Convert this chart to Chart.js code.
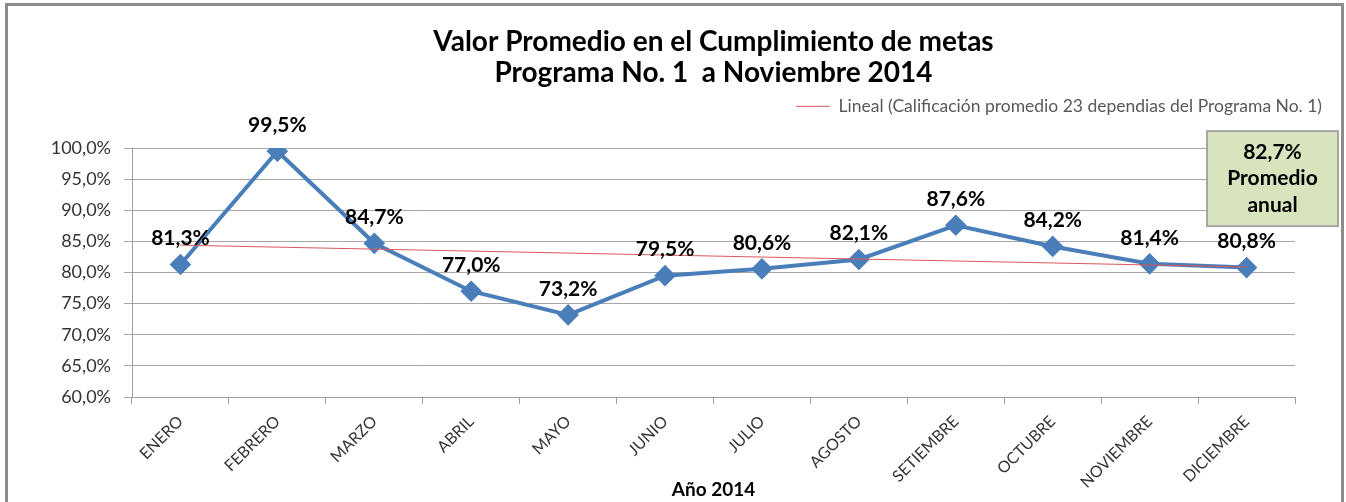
<!DOCTYPE html>
<html lang="es">
<head>
<meta charset="UTF-8">
<title>Valor Promedio en el Cumplimiento de metas</title>
<script src="https://cdn.jsdelivr.net/npm/chart.js"></script>
<style>
  html, body { margin: 0; padding: 0; background: #fff; }
</style>
</head>
<body>
<canvas id="metasChart" width="1346" height="502"></canvas>

<script>
const meses = ['ENERO', 'FEBRERO', 'MARZO', 'ABRIL', 'MAYO', 'JUNIO',
               'JULIO', 'AGOSTO', 'SETIEMBRE', 'OCTUBRE', 'NOVIEMBRE', 'DICIEMBRE'];
const cumplimiento = [81.3, 99.5, 84.7, 77.0, 73.2, 79.5, 80.6, 82.1, 87.6, 84.2, 81.4, 80.8];
// linea de tendencia: solo los extremos
const tendencia = [84.4, null, null, null, null, null, null, null, null, null, null, 80.9];
const promedioAnual = 82.7;
const yMin = 60, yMax = 100, yPaso = 5;

const FONT = 'Lato, "Open Sans", sans-serif';

function fmt(v) {
    return v.toFixed(1).replace('.', ',') + '%';
}

// marco gris alrededor del grafico
const marco = {
    id: 'marco',
    beforeDraw(chart) {
        const ctx = chart.ctx;
        ctx.save();
        ctx.fillStyle = '#fff';
        ctx.fillRect(0, 0, chart.width, chart.height);
        ctx.strokeStyle = '#8c8c8c';
        ctx.lineWidth = 3;
        ctx.strokeRect(6.5, 4.5, chart.width - 10, chart.height + 10);
        ctx.restore();
    }
};

// etiquetas de valor sobre cada punto
const etiquetas = {
    id: 'etiquetas',
    afterDatasetsDraw(chart) {
        const ctx = chart.ctx;
        const meta = chart.getDatasetMeta(0);
        ctx.save();
        ctx.font = 'bold 21px ' + FONT;
        ctx.fillStyle = '#000';
        ctx.textAlign = 'center';
        ctx.textBaseline = 'middle';
        meta.data.forEach((pt, i) => {
            ctx.fillText(fmt(cumplimiento[i]), pt.x, pt.y - 26);
        });
        ctx.restore();
    }
};

// cuadro "Promedio anual"
const cuadro = {
    id: 'cuadro',
    afterDraw(chart) {
        const ctx = chart.ctx;
        const a = chart.chartArea;
        const w = 131, h = 95;
        const x = a.right - 88, y = a.top - 17;
        ctx.save();
        ctx.fillStyle = '#d7e4bd';
        ctx.fillRect(x, y, w, h);
        ctx.strokeStyle = '#a6a6a6';
        ctx.lineWidth = 2;
        ctx.strokeRect(x, y, w, h);
        ctx.font = 'bold 21px ' + FONT;
        ctx.fillStyle = '#000';
        ctx.textAlign = 'center';
        ctx.textBaseline = 'middle';
        ctx.fillText(fmt(promedioAnual), x + w / 2, y + 21);
        ctx.fillText('Promedio', x + w / 2, y + 47);
        ctx.fillText('anual', x + w / 2, y + 74);
        ctx.restore();
    }
};

new Chart(document.getElementById('metasChart'), {
    type: 'line',
    data: {
        labels: meses,
        datasets: [{
            label: 'Calificación promedio 23 dependias del Programa No. 1',
            data: cumplimiento,
            borderColor: '#4a7ebb',
            backgroundColor: '#4a7ebb',
            borderWidth: 4,
            pointStyle: 'rectRot',
            pointRadius: 8,
            pointHoverRadius: 8,
            tension: 0,
            order: 1
        }, {
            label: 'Lineal (Calificación promedio 23 dependias del Programa No. 1)',
            data: tendencia,
            borderColor: '#d9585a',
            backgroundColor: '#d9585a',
            borderWidth: 1,
            pointRadius: 0,
            spanGaps: true,
            order: 0
        }]
    },
    options: {
        responsive: false,
        animation: false,
        devicePixelRatio: 1,
        layout: { padding: { left: 10, right: 16, top: 4, bottom: 0 } },
        plugins: {
            title: {
                display: true,
                text: ['Valor Promedio en el Cumplimiento de metas', 'Programa No. 1  a Noviembre 2014'],
                color: '#000',
                fullSize: false,
                font: { family: FONT, size: 28, weight: 'bold', lineHeight: 1.1 },
                padding: { top: 23, bottom: 1 }
            },
            legend: {
                position: 'top',
                align: 'end',
                labels: {
                    filter: item => item.datasetIndex === 1,
                    usePointStyle: true,
                    pointStyle: 'line',
                    pointStyleWidth: 34,
                    color: '#595959',
                    font: { family: FONT, size: 17.5 },
                    padding: 8
                }
            },
            tooltip: { enabled: false }
        },
        scales: {
            x: {
                offset: true,
                grid: { offset: true, drawOnChartArea: false, drawTicks: true, tickLength: 7, color: '#a0a0a0' },
                border: { color: '#a0a0a0' },
                ticks: {
                    color: '#333',
                    font: { family: FONT, size: 16 },
                    maxRotation: 45,
                    minRotation: 45,
                    autoSkip: false,
                    padding: 8
                },
                title: {
                    display: true,
                    text: 'Año 2014',
                    color: '#000',
                    font: { family: FONT, size: 19, weight: 'bold' },
                    padding: { top: 0, bottom: 1 }
                },
                afterFit(s) { s.height = 105; }
            },
            // espacio entre la leyenda y el area del grafico
            xArriba: {
                position: 'top',
                display: true,
                grid: { display: false },
                border: { display: false },
                ticks: { display: false },
                afterFit(s) { s.height = 23; }
            },
            y: {
                min: yMin,
                max: yMax,
                ticks: {
                    stepSize: yPaso,
                    color: '#333',
                    font: { family: FONT, size: 18 },
                    padding: 13,
                    callback: v => fmt(v)
                },
                grid: { color: '#a6a6a6', tickLength: 8 },
                border: { color: '#a0a0a0' },
                afterFit(s) { s.width = 122; }
            },
            yDer: {
                position: 'right',
                display: true,
                grid: { display: false },
                border: { display: false },
                ticks: { display: false },
                afterFit(s) { s.width = 35; }
            }
        }
    },
    plugins: [marco, etiquetas, cuadro]
});
</script>
</body>
</html>
